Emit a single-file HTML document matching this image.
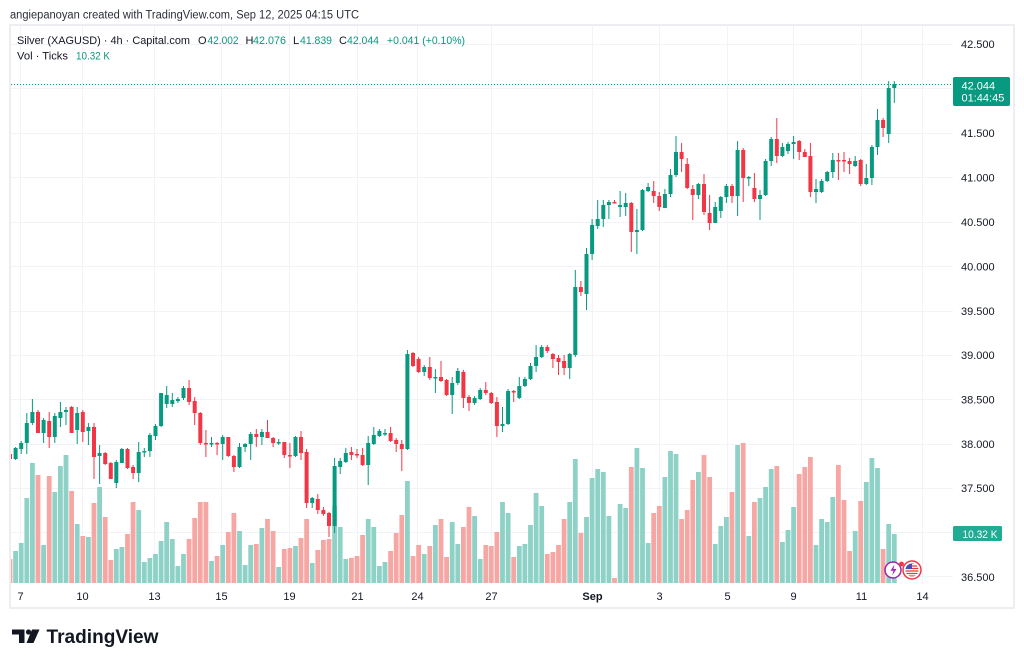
<!DOCTYPE html>
<html><head><meta charset="utf-8"><style>
html,body{margin:0;padding:0;background:#fff;}
svg{display:block;font-family:"Liberation Sans",Arial,sans-serif;}
</style></head><body>
<svg width="1024" height="665" viewBox="0 0 1024 665" xmlns="http://www.w3.org/2000/svg">
<defs><clipPath id="pane"><rect x="11" y="25" width="942" height="559"/></clipPath></defs>
<rect width="1024" height="665" fill="#fff"/>
<text x="10" y="18.5" font-size="11.5" fill="#2a2e39" textLength="349" lengthAdjust="spacingAndGlyphs">angiepanoyan created with TradingView.com, Sep 12, 2025 04:15 UTC</text>
<rect x="10" y="25" width="1004" height="583" fill="none" stroke="#eceef1" stroke-width="2"/>
<!-- grid -->
<g stroke="#f1f3f6" stroke-width="1">
<path d="M11 44.5H953M11 88.5H953M11 133.5H953M11 177.5H953M11 222.5H953M11 266.5H953M11 311.5H953M11 355.5H953M11 399.5H953M11 444.5H953M11 488.5H953M11 532.5H953M11 576.5H953"/>
<path d="M20.5 25V584M82.5 25V584M154.5 25V584M221.5 25V584M289.5 25V584M357.5 25V584M417.5 25V584M491.5 25V584M592.5 25V584M659.5 25V584M727.5 25V584M793.5 25V584M861.5 25V584M922.5 25V584"/>
</g>
<g clip-path="url(#pane)">
<!-- volume -->
<path fill="#8ed1c6" d="M13.2 551h4.8V583h-4.8zM18.8 543h4.8V583h-4.8zM24.4 498h4.8V583h-4.8zM30 463h4.8V583h-4.8zM41.2 545h4.8V583h-4.8zM52.4 492h4.8V583h-4.8zM58 466h4.8V583h-4.8zM63.6 455h4.8V583h-4.8zM74.8 524h4.8V583h-4.8zM86 537h4.8V583h-4.8zM97.2 487h4.8V583h-4.8zM113.9 549h4.8V583h-4.8zM119.5 547h4.8V583h-4.8zM136.3 510h4.8V583h-4.8zM141.9 562h4.8V583h-4.8zM147.5 558h4.8V583h-4.8zM153.1 554h4.8V583h-4.8zM158.7 541h4.8V583h-4.8zM164.3 522h4.8V583h-4.8zM169.9 539h4.8V583h-4.8zM175.5 566h4.8V583h-4.8zM181.1 554h4.8V583h-4.8zM209.1 561h4.8V583h-4.8zM220.3 545h4.8V583h-4.8zM237.1 531h4.8V583h-4.8zM242.7 565h4.8V583h-4.8zM248.3 545h4.8V583h-4.8zM259.5 528h4.8V583h-4.8zM276.3 567h4.8V583h-4.8zM293.1 546h4.8V583h-4.8zM309.8 563h4.8V583h-4.8zM332.2 506h4.8V583h-4.8zM337.8 527h4.8V583h-4.8zM343.4 559h4.8V583h-4.8zM365.8 519h4.8V583h-4.8zM371.4 527h4.8V583h-4.8zM377 566h4.8V583h-4.8zM382.6 562h4.8V583h-4.8zM405 481h4.8V583h-4.8zM421.8 554h4.8V583h-4.8zM433 525h4.8V583h-4.8zM449.8 522h4.8V583h-4.8zM455.4 544h4.8V583h-4.8zM472.2 516h4.8V583h-4.8zM477.8 559h4.8V583h-4.8zM500.1 502h4.8V583h-4.8zM505.7 513h4.8V583h-4.8zM516.9 546h4.8V583h-4.8zM522.5 544h4.8V583h-4.8zM528.1 525h4.8V583h-4.8zM533.7 493h4.8V583h-4.8zM539.3 506h4.8V583h-4.8zM567.3 502h4.8V583h-4.8zM572.9 459h4.8V583h-4.8zM584.1 517h4.8V583h-4.8zM589.7 478h4.8V583h-4.8zM595.3 469h4.8V583h-4.8zM600.9 472h4.8V583h-4.8zM606.5 516h4.8V583h-4.8zM617.7 504h4.8V583h-4.8zM623.3 508h4.8V583h-4.8zM634.5 448h4.8V583h-4.8zM640.1 468h4.8V583h-4.8zM645.7 543h4.8V583h-4.8zM662.5 477h4.8V583h-4.8zM668.1 451h4.8V583h-4.8zM673.6 454h4.8V583h-4.8zM696 472h4.8V583h-4.8zM712.8 544h4.8V583h-4.8zM718.4 526h4.8V583h-4.8zM724 517h4.8V583h-4.8zM735.2 445h4.8V583h-4.8zM746.4 536h4.8V583h-4.8zM757.6 498h4.8V583h-4.8zM763.2 487h4.8V583h-4.8zM768.8 469h4.8V583h-4.8zM780 542h4.8V583h-4.8zM785.6 530h4.8V583h-4.8zM791.2 507h4.8V583h-4.8zM813.6 545h4.8V583h-4.8zM819.2 519h4.8V583h-4.8zM824.8 522h4.8V583h-4.8zM830.4 497h4.8V583h-4.8zM852.8 531h4.8V583h-4.8zM863.9 482h4.8V583h-4.8zM869.5 458h4.8V583h-4.8zM875.1 468h4.8V583h-4.8zM886.3 524h4.8V583h-4.8zM891.9 534h4.8V583h-4.8z"/>
<path fill="#f6a7a4" d="M7.6 559h4.8V583h-4.8zM35.6 475h4.8V583h-4.8zM46.8 476h4.8V583h-4.8zM69.2 491h4.8V583h-4.8zM80.4 536h4.8V583h-4.8zM91.6 503h4.8V583h-4.8zM102.8 517h4.8V583h-4.8zM108.4 560h4.8V583h-4.8zM125.1 534h4.8V583h-4.8zM130.7 502h4.8V583h-4.8zM186.7 539h4.8V583h-4.8zM192.3 518h4.8V583h-4.8zM197.9 502h4.8V583h-4.8zM203.5 502h4.8V583h-4.8zM214.7 556h4.8V583h-4.8zM225.9 532h4.8V583h-4.8zM231.5 513h4.8V583h-4.8zM253.9 544h4.8V583h-4.8zM265.1 519h4.8V583h-4.8zM270.7 531h4.8V583h-4.8zM281.9 549h4.8V583h-4.8zM287.5 548h4.8V583h-4.8zM298.6 538h4.8V583h-4.8zM304.2 519h4.8V583h-4.8zM315.4 550h4.8V583h-4.8zM321 540h4.8V583h-4.8zM326.6 539h4.8V583h-4.8zM349 558h4.8V583h-4.8zM354.6 556h4.8V583h-4.8zM360.2 535h4.8V583h-4.8zM388.2 551h4.8V583h-4.8zM393.8 533h4.8V583h-4.8zM399.4 515h4.8V583h-4.8zM410.6 556h4.8V583h-4.8zM416.2 545h4.8V583h-4.8zM427.4 546h4.8V583h-4.8zM438.6 519h4.8V583h-4.8zM444.2 557h4.8V583h-4.8zM461 527h4.8V583h-4.8zM466.6 507h4.8V583h-4.8zM483.4 545h4.8V583h-4.8zM488.9 546h4.8V583h-4.8zM494.5 532h4.8V583h-4.8zM511.3 557h4.8V583h-4.8zM544.9 554h4.8V583h-4.8zM550.5 552h4.8V583h-4.8zM556.1 545h4.8V583h-4.8zM561.7 519h4.8V583h-4.8zM578.5 533h4.8V583h-4.8zM612.1 578h4.8V583h-4.8zM628.9 467h4.8V583h-4.8zM651.3 513h4.8V583h-4.8zM656.9 506h4.8V583h-4.8zM679.2 519h4.8V583h-4.8zM684.8 510h4.8V583h-4.8zM690.4 480h4.8V583h-4.8zM701.6 455h4.8V583h-4.8zM707.2 477h4.8V583h-4.8zM729.6 492h4.8V583h-4.8zM740.8 443h4.8V583h-4.8zM752 502h4.8V583h-4.8zM774.4 466h4.8V583h-4.8zM796.8 474h4.8V583h-4.8zM802.4 467h4.8V583h-4.8zM808 457h4.8V583h-4.8zM836 465h4.8V583h-4.8zM841.6 500h4.8V583h-4.8zM847.2 551h4.8V583h-4.8zM858.3 501h4.8V583h-4.8zM880.7 549h4.8V583h-4.8z"/>
<!-- candles up -->
<path fill="#089981" d="M13.6 448h4v11h-4zM15.1 447h1v13h-1zM19.2 443h4v6h-4zM20.7 441h1v13h-1zM24.8 423h4v20h-4zM26.3 413h1v41h-1zM30.4 412h4v11h-4zM31.9 399h1v26h-1zM41.6 420h4v13h-4zM43.1 418h1v25h-1zM52.8 416h4v21h-4zM54.3 413h1v30h-1zM58.4 412h4v6h-4zM59.9 402h1v25h-1zM64 410h4v2h-4zM65.5 407h1v18h-1zM75.2 413h4v17h-4zM76.7 407h1v37h-1zM86.4 427h4v4h-4zM87.9 423h1v22h-1zM97.6 453h4v3h-4zM99.1 445h1v39h-1zM114.3 462h4v21h-4zM115.8 460h1v28h-1zM119.9 449h4v14h-4zM121.4 448h1v15h-1zM136.7 452h4v21h-4zM138.2 442h1v40h-1zM142.3 451h4v1.5h-4zM143.8 448h1v9h-1zM147.9 435h4v16h-4zM149.4 433h1v24h-1zM153.5 426h4v10h-4zM155 424h1v16h-1zM159.1 393h4v33h-4zM160.6 393h1v34h-1zM164.7 395h4v9h-4zM166.2 386h1v22h-1zM170.3 400h4v4h-4zM171.8 393h1v14h-1zM175.9 399h4v2h-4zM177.4 397h1v6h-1zM181.5 388h4v10h-4zM183 386h1v14h-1zM209.5 443h4v1.5h-4zM211 437h1v10h-1zM220.7 437h4v7h-4zM222.2 435h1v25h-1zM237.5 447h4v20h-4zM239 443h1v25h-1zM243.1 444h4v3h-4zM244.6 443h1v9h-1zM248.7 434h4v10h-4zM250.2 432h1v28h-1zM259.9 432h4v5h-4zM261.4 429h1v16h-1zM276.7 442h4v1.5h-4zM278.2 439h1v6h-1zM293.5 437h4v19h-4zM295 436h1v21h-1zM310.2 498h4v5h-4zM311.7 497h1v11h-1zM332.6 466h4v60h-4zM334.1 458h1v75h-1zM338.2 461h4v6h-4zM339.7 458h1v16h-1zM343.8 453h4v9h-4zM345.3 448h1v15h-1zM366.2 443h4v22h-4zM367.7 436h1v49h-1zM371.8 435h4v9h-4zM373.3 427h1v18h-1zM377.4 431h4v5h-4zM378.9 429h1v8h-1zM383 433h4v1.5h-4zM384.5 429h1v7h-1zM405.4 354h4v95h-4zM406.9 350h1v100h-1zM422.2 367h4v5h-4zM423.7 365h1v11h-1zM433.4 377h4v1.5h-4zM434.9 369h1v24h-1zM450.2 383h4v12h-4zM451.7 377h1v37h-1zM455.8 371h4v12h-4zM457.3 368h1v17h-1zM472.6 398h4v5h-4zM474.1 396h1v9h-1zM478.2 390h4v9h-4zM479.7 388h1v12h-1zM500.5 424h4v2h-4zM502 407h1v25h-1zM506.1 391h4v33h-4zM507.6 389h1v36h-1zM517.3 386h4v12h-4zM518.8 377h1v22h-1zM522.9 379h4v7h-4zM524.4 377h1v10h-1zM528.5 366h4v13h-4zM530 363h1v17h-1zM534.1 357h4v9h-4zM535.6 345h1v27h-1zM539.7 347h4v10h-4zM541.2 345h1v13h-1zM567.7 354h4v14h-4zM569.2 353h1v26h-1zM573.3 287h4v68h-4zM574.8 270h1v87h-1zM584.5 254h4v40h-4zM586 248h1v62h-1zM590.1 225h4v29h-4zM591.6 219h1v41h-1zM595.7 219h4v7h-4zM597.2 200h1v29h-1zM601.3 205h4v14h-4zM602.8 200h1v27h-1zM606.9 202h4v3h-4zM608.4 200h1v19h-1zM618.1 205h4v2h-4zM619.6 191h1v26h-1zM623.7 203h4v4h-4zM625.2 193h1v23h-1zM634.9 230h4v2h-4zM636.4 209h1v45h-1zM640.5 190h4v40h-4zM642 189h1v42h-1zM646.1 187h4v4h-4zM647.6 183h1v9h-1zM662.9 194h4v14h-4zM664.4 189h1v19h-1zM668.5 175h4v19h-4zM670 169h1v28h-1zM674 152h4v23h-4zM675.5 136h1v41h-1zM696.4 184h4v11h-4zM697.9 183h1v16h-1zM713.2 207h4v16h-4zM714.7 202h1v21h-1zM718.8 197h4v14h-4zM720.3 196h1v22h-1zM724.4 186h4v11h-4zM725.9 184h1v19h-1zM735.6 150h4v46h-4zM737.1 141h1v75h-1zM746.8 177h4v1.5h-4zM748.3 176h1v10h-1zM758 195h4v4h-4zM759.5 190h1v30h-1zM763.6 161h4v34h-4zM765.1 159h1v37h-1zM769.2 139h4v22h-4zM770.7 137h1v29h-1zM780.4 147h4v9h-4zM781.9 143h1v14h-1zM786 144h4v7h-4zM787.5 142h1v12h-1zM791.6 142h4v2h-4zM793.1 136h1v23h-1zM814 189h4v3h-4zM815.5 179h1v24h-1zM819.6 181h4v11h-4zM821.1 179h1v14h-1zM825.2 172h4v9h-4zM826.7 171h1v11h-1zM830.8 160h4v12h-4zM832.3 153h1v25h-1zM853.2 161h4v5h-4zM854.7 156h1v11h-1zM864.3 178h4v6h-4zM865.8 164h1v21h-1zM869.9 147h4v31h-4zM871.4 145h1v40h-1zM875.5 120h4v27h-4zM877 109h1v46h-1zM886.7 88h4v46h-4zM888.2 81h1v62h-1zM892.3 84h4v4h-4zM893.8 81h1v22h-1z"/>
<!-- candles down -->
<path fill="#f23645" d="M8 454h4v5h-4zM9.5 454h1v6h-1zM36 412h4v21h-4zM37.5 410h1v23h-1zM47.2 421h4v16h-4zM48.7 412h1v36h-1zM69.6 407h4v26h-4zM71.1 406h1v27h-1zM80.8 412h4v20h-4zM82.3 410h1v32h-1zM92 427h4v30h-4zM93.5 423h1v56h-1zM103.2 453h4v11h-4zM104.7 452h1v13h-1zM108.8 463h4v16h-4zM110.3 462h1v17h-1zM125.5 449h4v19h-4zM127 448h1v21h-1zM131.1 467h4v6h-4zM132.6 465h1v14h-1zM187.1 388h4v14h-4zM188.6 380h1v25h-1zM192.7 401h4v12h-4zM194.2 397h1v28h-1zM198.3 413h4v30h-4zM199.8 412h1v33h-1zM203.9 443h4v1.5h-4zM205.4 430h1v27h-1zM215.1 443h4v1.5h-4zM216.6 442h1v13h-1zM226.3 437h4v19h-4zM227.8 437h1v20h-1zM231.9 456h4v11h-4zM233.4 455h1v17h-1zM254.3 434h4v3h-4zM255.8 429h1v18h-1zM265.5 432h4v6h-4zM267 420h1v18h-1zM271.1 438h4v5h-4zM272.6 437h1v10h-1zM282.3 442h4v13h-4zM283.8 442h1v16h-1zM287.9 455h4v1.5h-4zM289.4 443h1v25h-1zM299 437h4v16h-4zM300.5 431h1v29h-1zM304.6 452h4v51h-4zM306.1 449h1v59h-1zM315.8 499h4v11h-4zM317.3 494h1v20h-1zM321.4 510h4v4h-4zM322.9 507h1v9h-1zM327 513h4v13h-4zM328.5 512h1v25h-1zM349.4 452h4v3h-4zM350.9 447h1v13h-1zM355 454h4v1.5h-4zM356.5 449h1v9h-1zM360.6 455h4v10h-4zM362.1 448h1v18h-1zM388.6 433h4v8h-4zM390.1 427h1v15h-1zM394.2 440h4v4h-4zM395.7 438h1v14h-1zM399.8 444h4v5h-4zM401.3 440h1v31h-1zM411 353h4v13h-4zM412.5 352h1v15h-1zM416.6 359h4v13h-4zM418.1 357h1v16h-1zM427.8 367h4v11h-4zM429.3 357h1v23h-1zM439 377h4v4h-4zM440.5 361h1v21h-1zM444.6 380h4v15h-4zM446.1 379h1v17h-1zM461.4 372h4v26h-4zM462.9 370h1v38h-1zM467 397h4v6h-4zM468.5 395h1v16h-1zM483.8 390h4v3h-4zM485.3 382h1v13h-1zM489.3 393h4v10h-4zM490.8 392h1v12h-1zM494.9 402h4v24h-4zM496.4 397h1v40h-1zM511.7 391h4v1.5h-4zM513.2 390h1v12h-1zM545.3 347h4v4h-4zM546.8 345h1v8h-1zM550.9 354h4v5h-4zM552.4 353h1v15h-1zM556.5 358h4v4h-4zM558 355h1v20h-1zM562.1 361h4v7h-4zM563.6 355h1v20h-1zM578.9 287h4v5h-4zM580.4 281h1v15h-1zM612.5 202h4v1.5h-4zM614 200h1v3h-1zM629.3 203h4v29h-4zM630.8 202h1v50h-1zM651.7 191h4v5h-4zM653.2 181h1v22h-1zM657.3 196h4v11h-4zM658.8 192h1v19h-1zM679.6 152h4v7h-4zM681.1 143h1v29h-1zM685.2 164h4v24h-4zM686.7 158h1v31h-1zM690.8 189h4v6h-4zM692.3 185h1v35h-1zM702 184h4v28h-4zM703.5 174h1v41h-1zM707.6 213h4v10h-4zM709.1 195h1v35h-1zM730 186h4v10h-4zM731.5 184h1v19h-1zM741.2 150h4v28h-4zM742.7 148h1v54h-1zM752.4 188h4v11h-4zM753.9 173h1v29h-1zM774.8 139h4v17h-4zM776.3 118h1v45h-1zM797.2 141h4v11h-4zM798.7 140h1v20h-1zM802.8 152h4v5h-4zM804.3 149h1v8h-1zM808.4 156h4v36h-4zM809.9 143h1v54h-1zM836.4 160h4v1.5h-4zM837.9 153h1v27h-1zM842 160h4v1.5h-4zM843.5 152h1v20h-1zM847.6 161h4v3h-4zM849.1 158h1v16h-1zM858.7 160h4v24h-4zM860.2 159h1v27h-1zM881.1 120h4v8h-4zM882.6 118h1v19h-1z"/>
<!-- current price line -->
<path d="M11 84.5H953" stroke="#089981" stroke-width="1" stroke-dasharray="1 2"/>
</g>
<!-- event icons -->
<circle cx="912" cy="570" r="9" fill="#fff" stroke="#f23645" stroke-width="1.5"/>
<clipPath id="fl"><circle cx="912" cy="570" r="6.5"/></clipPath>
<g clip-path="url(#fl)">
<rect x="905" y="563" width="14" height="14" fill="#fff"/>
<path d="M905 563.5h14M905 566h14M905 568.5h14M905 571h14M905 573.5h14M905 576h14" stroke="#e53935" stroke-width="1.2"/>
<rect x="905" y="563" width="7" height="6" fill="#3f51b5"/>
</g>
<circle cx="893" cy="570" r="8" fill="#fff" stroke="#9c27b0" stroke-width="1.5"/>
<path d="M894.5 564.5l-4 6.2h3l-1.5 5l4.5-6.7h-3z" fill="#9c27b0"/>
<circle cx="901.5" cy="564" r="2.4" fill="#f23645"/>
<!-- price axis -->
<g font-size="11" fill="#131722">
<text x="961" y="48">42.500</text>
<text x="961" y="137">41.500</text>
<text x="961" y="181.5">41.000</text>
<text x="961" y="226">40.500</text>
<text x="961" y="270.5">40.000</text>
<text x="961" y="315">39.500</text>
<text x="961" y="359">39.000</text>
<text x="961" y="403.5">38.500</text>
<text x="961" y="448">38.000</text>
<text x="961" y="492">37.500</text>
<text x="961" y="581">36.500</text>
</g>
<rect x="953" y="77" width="57" height="29" rx="2" fill="#089981"/>
<text x="961.5" y="89.3" font-size="11" fill="#fff">42.044</text>
<text x="961.5" y="101.7" font-size="11" fill="#fff">01:44:45</text>
<rect x="953" y="526" width="49" height="15" rx="1.5" fill="#22ab94"/>
<text x="962.5" y="537.8" font-size="11" fill="#fff" textLength="35" lengthAdjust="spacingAndGlyphs">10.32 K</text>
<!-- time axis -->
<g font-size="11" fill="#131722" text-anchor="middle">
<text x="20.5" y="600">7</text>
<text x="82.5" y="600">10</text>
<text x="154.5" y="600">13</text>
<text x="221.5" y="600">15</text>
<text x="289.5" y="600">19</text>
<text x="357.5" y="600">21</text>
<text x="417.5" y="600">24</text>
<text x="491.5" y="600">27</text>
<text x="592.5" y="600" font-weight="bold">Sep</text>
<text x="659.5" y="600">3</text>
<text x="727.5" y="600">5</text>
<text x="793.5" y="600">9</text>
<text x="861.5" y="600">11</text>
<text x="922.5" y="600">14</text>
</g>
<!-- legend -->
<g font-size="11">
<text x="17" y="44" fill="#131722" textLength="173" lengthAdjust="spacingAndGlyphs">Silver (XAGUSD) · 4h · Capital.com</text>
<text x="198" y="44" fill="#131722">O</text>
<text x="207.5" y="44" fill="#089981" textLength="31" lengthAdjust="spacingAndGlyphs">42.002</text>
<text x="245.5" y="44" fill="#131722">H</text>
<text x="253" y="44" fill="#089981" textLength="33" lengthAdjust="spacingAndGlyphs">42.076</text>
<text x="293" y="44" fill="#131722">L</text>
<text x="300" y="44" fill="#089981" textLength="32" lengthAdjust="spacingAndGlyphs">41.839</text>
<text x="339" y="44" fill="#131722">C</text>
<text x="347" y="44" fill="#089981" textLength="32" lengthAdjust="spacingAndGlyphs">42.044</text>
<text x="387" y="44" fill="#089981" textLength="78" lengthAdjust="spacingAndGlyphs">+0.041 (+0.10%)</text>
<text x="17" y="59.3" fill="#131722" textLength="51" lengthAdjust="spacingAndGlyphs">Vol · Ticks</text>
<text x="76" y="59.3" fill="#089981" textLength="34" lengthAdjust="spacingAndGlyphs">10.32 K</text>
</g>
<!-- logo -->
<path d="M12 629.5H24.5V643H19V634.5H12Z" fill="#131722"/>
<circle cx="28.5" cy="632" r="2.6" fill="#131722"/>
<path d="M32 629.5H39.5L33.5 643H26.5Z" fill="#131722"/>
<text x="46.5" y="643" font-size="19" font-weight="bold" fill="#131722" textLength="112" lengthAdjust="spacingAndGlyphs">TradingView</text>
</svg>
</body></html>
